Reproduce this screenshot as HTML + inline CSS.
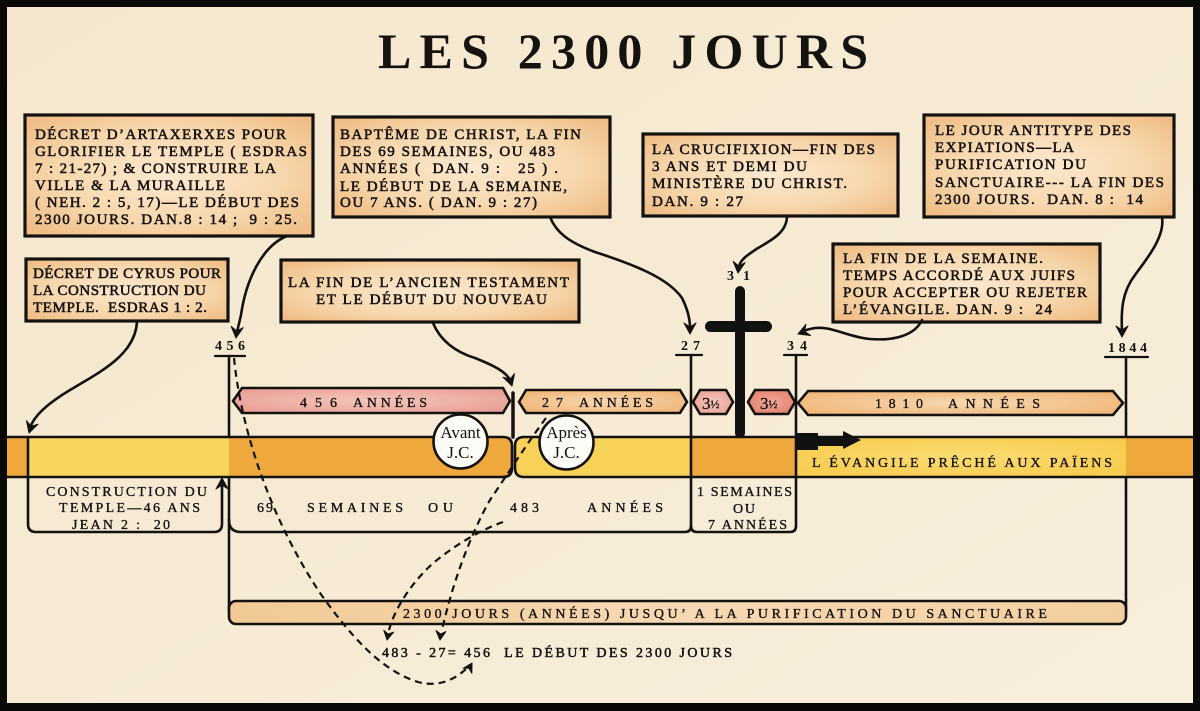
<!DOCTYPE html>
<html><head><meta charset="utf-8"><style>
html,body{margin:0;padding:0;background:#000;}
svg{display:block;}
text{font-family:"Liberation Serif",serif;white-space:pre;fill:#151210;}
.bx{font-size:15px;stroke:#151210;stroke-width:.55;}
.lb{font-size:14px;stroke:#151210;stroke-width:.35;}
.mk{font-size:14px;font-weight:bold;}
.ln{fill:none;stroke:#141210;stroke-width:2.6;stroke-linecap:round;}
.ds{fill:none;stroke:#141210;stroke-width:2.2;stroke-dasharray:7 5;}
.ah{fill:#141210;stroke:#141210;stroke-width:1;stroke-linejoin:round;}
.box{fill:url(#gBox);stroke:#141210;stroke-width:3.2;}
</style></head><body>
<svg width="1200" height="711" viewBox="0 0 1200 711" xmlns="http://www.w3.org/2000/svg">
<defs>
<linearGradient id="gBg" x1="0" y1="0" x2="1" y2="1">
<stop offset="0" stop-color="#f5e7ce"/><stop offset="1" stop-color="#f8eedc"/>
</linearGradient>
<radialGradient id="gBox" cx="50%" cy="50%" r="65%">
<stop offset="0" stop-color="#fbe9cf"/><stop offset=".6" stop-color="#f7d7ad"/><stop offset="1" stop-color="#efbd86"/>
</radialGradient>
<radialGradient id="gPink" cx="50%" cy="50%" r="60%">
<stop offset="0" stop-color="#f4c6bc"/><stop offset="1" stop-color="#e9a096"/>
</radialGradient>
<radialGradient id="gRed" cx="50%" cy="50%" r="60%">
<stop offset="0" stop-color="#f0a999"/><stop offset="1" stop-color="#e27e6c"/>
</radialGradient>
<radialGradient id="gPeach" cx="50%" cy="50%" r="60%">
<stop offset="0" stop-color="#f7d7b0"/><stop offset="1" stop-color="#f0b779"/>
</radialGradient>
<linearGradient id="g2300" x1="0" y1="0" x2="1" y2="0">
<stop offset="0" stop-color="#f2c995"/><stop offset=".5" stop-color="#f6d9b3"/><stop offset="1" stop-color="#f3cf9f"/>
</linearGradient>
<radialGradient id="gYel" cx="50%" cy="50%" r="60%">
<stop offset="0" stop-color="#fbdc72"/><stop offset="1" stop-color="#f7cc50"/>
</radialGradient>
</defs>

<rect width="1200" height="711" fill="#0a0908"/>
<rect x="7" y="7" width="1186" height="696" fill="url(#gBg)"/>

<!-- Title -->
<text x="378" y="68" font-size="50" font-weight="bold" textLength="490" lengthAdjust="spacing">LES 2300 JOURS</text>

<!-- Boxes -->
<rect class="box" x="25" y="115" width="288" height="121"/>
<text class="bx" x="35" y="139" textLength="251" lengthAdjust="spacing">DÉCRET D’ARTAXERXES POUR</text>
<text class="bx" x="35" y="156" textLength="272" lengthAdjust="spacing">GLORIFIER LE TEMPLE ( ESDRAS</text>
<text class="bx" x="35" y="173" textLength="241" lengthAdjust="spacing">7 : 21-27) ; &amp; CONSTRUIRE LA</text>
<text class="bx" x="35" y="190" textLength="190" lengthAdjust="spacing">VILLE &amp; LA MURAILLE</text>
<text class="bx" x="35" y="207" textLength="264" lengthAdjust="spacing">( NEH. 2 : 5, 17)—LE DÉBUT DES</text>
<text class="bx" x="35" y="224" textLength="262" lengthAdjust="spacing">2300 JOURS. DAN.8 : 14 ;  9 : 25.</text>

<rect class="box" x="26" y="259" width="202" height="62"/>
<text class="bx" x="33" y="278" textLength="188" lengthAdjust="spacing">DÉCRET DE CYRUS POUR</text>
<text class="bx" x="33" y="295" textLength="173" lengthAdjust="spacing">LA CONSTRUCTION DU</text>
<text class="bx" x="33" y="312" textLength="174" lengthAdjust="spacing">TEMPLE.  ESDRAS 1 : 2.</text>

<rect class="box" x="333" y="117" width="277" height="100"/>
<text class="bx" x="340" y="139" textLength="241" lengthAdjust="spacing">BAPTÊME DE CHRIST, LA FIN</text>
<text class="bx" x="340" y="156" textLength="215" lengthAdjust="spacing">DES 69 SEMAINES, OU 483</text>
<text class="bx" x="340" y="173" textLength="218" lengthAdjust="spacing">ANNÉES (  DAN. 9 :   25 ) .</text>
<text class="bx" x="340" y="191" textLength="227" lengthAdjust="spacing">LE DÉBUT DE LA SEMAINE,</text>
<text class="bx" x="340" y="207" textLength="197" lengthAdjust="spacing">OU 7 ANS. ( DAN. 9 : 27)</text>

<rect class="box" x="281" y="260" width="298" height="62"/>
<text class="bx" x="288" y="287" textLength="281" lengthAdjust="spacing">LA FIN DE L’ANCIEN TESTAMENT</text>
<text class="bx" x="316" y="304" textLength="231" lengthAdjust="spacing">ET LE DÉBUT DU NOUVEAU</text>

<rect class="box" x="643" y="134" width="255" height="82"/>
<text class="bx" x="652" y="154" textLength="223" lengthAdjust="spacing">LA CRUCIFIXION—FIN DES</text>
<text class="bx" x="652" y="171" textLength="155" lengthAdjust="spacing">3 ANS ET DEMI DU</text>
<text class="bx" x="652" y="188" textLength="195" lengthAdjust="spacing">MINISTÈRE DU CHRIST.</text>
<text class="bx" x="652" y="206" textLength="91" lengthAdjust="spacing">DAN. 9 : 27</text>

<rect class="box" x="924" y="115" width="250" height="102"/>
<text class="bx" x="935" y="135" textLength="196" lengthAdjust="spacing">LE JOUR ANTITYPE DES</text>
<text class="bx" x="935" y="152" textLength="139" lengthAdjust="spacing">EXPIATIONS—LA</text>
<text class="bx" x="935" y="169" textLength="151" lengthAdjust="spacing">PURIFICATION DU</text>
<text class="bx" x="935" y="187" textLength="229" lengthAdjust="spacing">SANCTUAIRE--- LA FIN DES</text>
<text class="bx" x="935" y="204" textLength="208" lengthAdjust="spacing">2300 JOURS.  DAN. 8 :  14</text>

<rect class="box" x="833" y="244" width="267" height="78"/>
<text class="bx" x="843" y="263" textLength="200" lengthAdjust="spacing">LA FIN DE LA SEMAINE.</text>
<text class="bx" x="843" y="280" textLength="232" lengthAdjust="spacing">TEMPS ACCORDÉ AUX JUIFS</text>
<text class="bx" x="843" y="297" textLength="244" lengthAdjust="spacing">POUR ACCEPTER OU REJETER</text>
<text class="bx" x="843" y="314" textLength="209" lengthAdjust="spacing">L’ÉVANGILE. DAN. 9 :  24</text>

<!-- Connectors -->
<path class="ln" d="M287,236 C262,246 246,280 241,315 L237,332"/>
<path class="ah" d="M0,0 L-6,-11 L0,-7 L6,-11 Z" transform="translate(236,338) rotate(6)"/>
<path class="ln" d="M137,322 C135,355 100,372 70,390 C45,405 33,418 30,428"/>
<path class="ah" d="M0,0 L-6,-11 L0,-7 L6,-11 Z" transform="translate(29,433) rotate(17)"/>
<path class="ln" d="M433,323 C440,340 455,352 475,358 C495,366 506,372 510,380"/>
<path class="ah" d="M0,0 L-6,-11 L0,-7 L6,-11 Z" transform="translate(512,386) rotate(-17)"/>
<path class="ln" d="M550,217 C556,232 568,242 595,252 C635,265 668,278 682,298 C688,310 690,320 690,328"/>
<path class="ah" d="M0,0 L-6,-11 L0,-7 L6,-11 Z" transform="translate(690,334)"/>
<path class="ln" d="M787,216 C787,232 772,240 758,248 C746,256 740,260 739,267"/>
<path class="ah" d="M0,0 L-6,-11 L0,-7 L6,-11 Z" transform="translate(738,273) rotate(6)"/>
<path class="ln" d="M922,320 C915,335 895,341 870,339 C848,337 832,326 815,328 C809,329 806,330 803,331"/>
<path class="ah" d="M0,0 L-6,-11 L0,-7 L6,-11 Z" transform="translate(798,334) rotate(68)"/>
<path class="ln" d="M1162,217 C1165,235 1150,255 1135,275 C1122,292 1121,310 1122,331"/>
<path class="ah" d="M0,0 L-6,-11 L0,-7 L6,-11 Z" transform="translate(1122,337)"/>

<!-- Markers -->
<text class="mk" x="215" y="350" textLength="30" lengthAdjust="spacing">456</text>
<line class="ln" x1="215" y1="356" x2="245" y2="356" style="stroke-width:2.2"/>
<text class="mk" x="681" y="350" textLength="19" lengthAdjust="spacing">27</text>
<line class="ln" x1="676" y1="355" x2="702" y2="355" style="stroke-width:2.2"/>
<text class="mk" x="787" y="350" textLength="20" lengthAdjust="spacing">34</text>
<line class="ln" x1="784" y1="355" x2="807" y2="355" style="stroke-width:2.2"/>
<text class="mk" x="1108" y="352" textLength="39" lengthAdjust="spacing">1844</text>
<line class="ln" x1="1105" y1="357" x2="1148" y2="357" style="stroke-width:2.2"/>
<text class="mk" x="727" y="280" textLength="23" lengthAdjust="spacing">3 1</text>

<!-- Verticals & brackets -->
<line class="ln" x1="229" y1="356" x2="229" y2="612"/>
<line class="ln" x1="1126" y1="357" x2="1126" y2="612"/>
<path class="ln" d="M691,355 L691,526 Q691,532 685,532 L241,532 Q229,532 229,520"/>
<path class="ln" d="M691,526 Q691,532 697,532 L790,532 Q796,532 796,526 L796,355"/>
<path class="ln" d="M28,477 L28,524 Q28,532 36,532 L214,532 Q222,532 222,524 L222,484"/>
<path class="ah" d="M0,0 L-6,-11 L0,-7 L6,-11 Z" transform="translate(222,478) rotate(180)"/>

<!-- Period bars -->
<path d="M233,401 L242,388 L503,388 L510,401 L503,413 L242,413 Z" fill="url(#gPink)" stroke="#141210" stroke-width="2.6"/>
<text class="lb" x="300" y="407" textLength="37" lengthAdjust="spacing">456</text>
<text class="lb" x="353" y="407" textLength="74" lengthAdjust="spacing">ANNÉES</text>
<line class="ln" x1="513" y1="393" x2="513" y2="437" style="stroke-width:3.5"/>
<path d="M519,402 L526,390 L680,390 L687,402 L680,413 L526,413 Z" fill="url(#gPeach)" stroke="#141210" stroke-width="2.6"/>
<text class="lb" x="542" y="407" textLength="21" lengthAdjust="spacing">27</text>
<text class="lb" x="579" y="407" textLength="74" lengthAdjust="spacing">ANNÉES</text>
<path d="M693,402 L700,390 L726,390 L733,402 L726,414 L700,414 Z" fill="url(#gPink)" stroke="#141210" stroke-width="2.6"/>
<text x="702" y="409" font-size="17" stroke="#151210" stroke-width=".3">3<tspan font-size="12" dy="-1">½</tspan></text>
<path d="M748,402 L755,390 L788,390 L795,402 L788,414 L755,414 Z" fill="url(#gRed)" stroke="#141210" stroke-width="2.6"/>
<text x="760" y="409" font-size="17" stroke="#151210" stroke-width=".3">3<tspan font-size="12" dy="-1">½</tspan></text>
<path d="M798,403 L808,391 L1113,391 L1123,403 L1113,415 L808,415 Z" fill="url(#gPeach)" stroke="#141210" stroke-width="2.6"/>
<text class="lb" x="875" y="408" textLength="48" lengthAdjust="spacing">1810</text>
<text class="lb" x="948" y="408" textLength="92" lengthAdjust="spacing">ANNÉES</text>

<!-- Cross -->
<rect x="735" y="286" width="10" height="152" rx="5" fill="#111"/>
<rect x="705" y="321" width="67" height="11" rx="5.5" fill="#111"/>

<!-- Timeline band -->
<rect x="7" y="437" width="22" height="40" fill="#efa83c"/>
<rect x="29" y="437" width="200" height="40" fill="#f9d45e"/>
<path d="M229,437 L503,437 Q512,437 512,446 L512,468 Q512,477 503,477 L229,477 Z" fill="#efa83c"/>
<path d="M524,437 L691,437 L691,477 L524,477 Q515,477 515,468 L515,446 Q515,437 524,437 Z" fill="#f8d158"/>
<rect x="691" y="437" width="105" height="40" fill="#efa83c"/>
<rect x="796" y="437" width="330" height="40" fill="url(#gYel)"/>
<rect x="1126" y="437" width="67" height="40" fill="#efa83c"/>
<path class="ln" d="M7,437 L503,437 Q512,437 512,446 L512,468 Q512,477 503,477 L7,477"/>
<path class="ln" d="M1193,437 L524,437 Q515,437 515,446 L515,468 Q515,477 524,477 L1193,477"/>
<line class="ln" x1="28" y1="437" x2="28" y2="477"/>
<line class="ln" x1="691" y1="437" x2="691" y2="477"/>
<line class="ln" x1="796" y1="437" x2="796" y2="477"/>
<path d="M797,433 L818,433 L818,437 L843,437 L843,431 L861,440 L843,449 L843,446 L818,446 L818,450 L797,450 Z" fill="#111"/>
<text class="lb" x="812" y="467" textLength="300" lengthAdjust="spacing">L ÉVANGILE PRÊCHÉ AUX PAÏENS</text>

<!-- Circles -->
<circle cx="460.5" cy="441.5" r="27" fill="#fdfbf6" stroke="#141210" stroke-width="2.6"/>
<text x="460.5" y="438" font-size="17" text-anchor="middle">Avant</text>
<text x="460.5" y="458" font-size="17" text-anchor="middle">J.C.</text>
<circle cx="566.5" cy="442.5" r="27" fill="#fdfbf6" stroke="#141210" stroke-width="2.6"/>
<text x="566.5" y="438" font-size="17" text-anchor="middle">Après</text>
<text x="566.5" y="458" font-size="17" text-anchor="middle">J.C.</text>

<!-- Below-band labels -->
<text class="lb" x="46" y="496" textLength="161" lengthAdjust="spacing">CONSTRUCTION DU</text>
<text class="lb" x="59" y="512" textLength="141" lengthAdjust="spacing">TEMPLE—46 ANS</text>
<text class="lb" x="72" y="529" textLength="98" lengthAdjust="spacing">JEAN 2 :  20</text>
<text class="lb" x="257" y="512" textLength="16" lengthAdjust="spacing">69</text>
<text class="lb" x="307" y="512" textLength="96" lengthAdjust="spacing">SEMAINES</text>
<text class="lb" x="428" y="512" textLength="25" lengthAdjust="spacing">OU</text>
<text class="lb" x="510" y="512" textLength="29" lengthAdjust="spacing">483</text>
<text class="lb" x="587" y="512" textLength="76" lengthAdjust="spacing">ANNÉES</text>
<text class="lb" x="697" y="496" textLength="95" lengthAdjust="spacing">1 SEMAINES</text>
<text class="lb" x="733" y="513" textLength="22" lengthAdjust="spacing">OU</text>
<text class="lb" x="708" y="529" textLength="79" lengthAdjust="spacing">7 ANNÉES</text>

<!-- 2300 bar -->
<rect x="229" y="601" width="897" height="23" rx="7" fill="url(#g2300)" stroke="#141210" stroke-width="2.6"/>
<text class="lb" x="403" y="618" textLength="644" lengthAdjust="spacing">2300 JOURS (ANNÉES) JUSQU’ A LA PURIFICATION DU SANCTUAIRE</text>
<text class="lb" x="382" y="657" font-size="15" style="stroke-width:.5" textLength="350" lengthAdjust="spacing">483 - 27= 456  LE DÉBUT DES 2300 JOURS</text>

<!-- Dashed lines -->
<path class="ds" d="M234,358 C240,420 265,510 320,593 C350,635 380,670 418,682 C440,688 456,678 466,669"/>
<path class="ah" d="M0,0 L-5,-9 L0,-6 L5,-9 Z" transform="translate(472,663) rotate(-150)"/>
<path class="ds" d="M546,418 C528,442 505,478 490,500 C470,535 452,585 442,630"/>
<path class="ah" d="M0,0 L-5,-9 L0,-6 L5,-9 Z" transform="translate(440,640) rotate(6)"/>
<path class="ds" d="M503,522 C480,530 450,548 430,566 C405,590 393,615 389,630"/>
<path class="ah" d="M0,0 L-5,-9 L0,-6 L5,-9 Z" transform="translate(387,640) rotate(11)"/>
</svg>
</body></html>
